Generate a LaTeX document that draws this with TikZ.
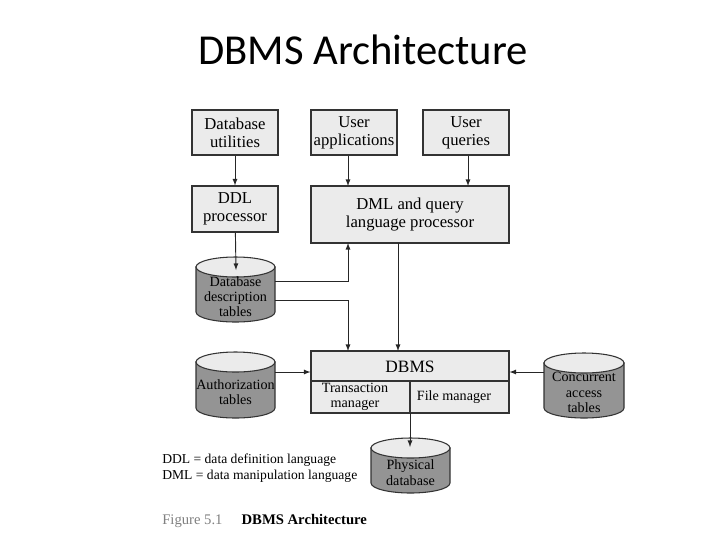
\documentclass[tikz,border=0pt]{standalone}
\usepackage{fontspec}
\setmainfont{Liberation Serif}
\newfontfamily\titlefont{Carlito}
\begin{document}
\begin{tikzpicture}[x=0.75pt,y=-0.75pt,
  box/.style={draw=black!80,fill=black!8,line width=0.8pt,inner sep=0pt,align=center,font=\fontsize{12.5}{13.5}\selectfont},
  ctext/.style={align=center,font=\fontsize{10.6}{11.5}\selectfont,inner sep=0pt},
  arr/.style={->,>=latex,line width=0.7pt,draw=black!85}]
\useasboundingbox (0,0) rectangle (720,540);
\newcommand{\mycyl}[6]{%
  \path[draw=black!80,line width=0.8pt,fill=black!42]
    (#2,#3+10) -- (#2,#5-10) arc[start angle=180,end angle=360,x radius={(#4-#2)*0.375pt},y radius=7.5pt] -- (#4,#3+10) -- cycle;
  \path[draw=black!80,line width=0.8pt,fill=black!8] ({(#2+#4)/2},#3+10) ellipse[x radius={(#4-#2)*0.375pt},y radius=7.5pt];
  \node[inner sep=0pt,minimum width={(#4-#2)*0.75pt},minimum height={(#5-#3)*0.75pt}] (#1) at ({(#2+#4)/2},{(#3+#5)/2}) {};
  \node[ctext] at ({(#2+#4)/2},{(#3+#5)/2+7}) {#6};}
\node[font=\titlefont\fontsize{32}{34}\selectfont] (title) at (363,50) {DBMS Architecture};
\node[box,minimum width=64.5pt,minimum height=33.75pt] (dbu) at (235,132.5) {Database\\utilities};
\node[box,minimum width=64.5pt,minimum height=33.75pt] (uapp) at (354,132.5) {User\\applications};
\node[box,minimum width=64.5pt,minimum height=33.75pt] (uq) at (466,132.5) {User\\queries};
\node[box,minimum width=64.5pt,minimum height=34.5pt] (ddl) at (235,209) {DDL\\processor};
\node[box,minimum width=148.5pt,minimum height=42.75pt] (dml) at (410,214.5) {DML and query\\language processor};
\mycyl{ddt}{196}{257}{275}{322}{Database\\description\\tables}
\mycyl{auth}{196}{352}{275}{418}{Authorization\\tables}
\mycyl{conc}{544}{353}{624}{418}{Concurrent\\access\\tables}
\mycyl{phys}{371}{438}{450}{493}{Physical\\database}
\node[box,minimum width=148.5pt,minimum height=46.5pt] (dbms) at (410,382) {};
\draw[draw=black!80,line width=0.8pt] (311,381) -- (509,381) (410,381) -- (410,413);
\node[font=\fontsize{13}{14}\selectfont] (dbmsl) at (410,367) {DBMS};
\node[ctext,font=\fontsize{10.6}{11.5}\selectfont] (tm) at (355,397) {Transaction\\manager};
\node[ctext,font=\fontsize{10.6}{11.5}\selectfont] (fm) at (454,397) {File manager};
\coordinate (fmb) at (410,413);
\coordinate (physt) at (410,447);
\draw[arr] (dbu) -- (ddl);
\draw[arr] (uapp.south -| 348,0) -- (348,186);
\draw[arr] (uq.south -| 468,0) -- (468,186);
\draw[arr] (ddl) -- (236,270);
\draw[arr] (ddt.east |- 0,281) -| (348,243);
\draw[arr] (ddt.east |- 0,300) -| (348,351);
\draw[arr] (398,243) -- (398,351);
\draw[arr] (auth.east |- 0,372) -- (dbms.west |- 0,372);
\draw[arr] (conc.west |- 0,372) -- (dbms.east |- 0,372);
\draw[arr] (fmb) -- (physt);
\node[anchor=west,align=left,inner sep=0pt,font=\fontsize{10.2}{12}\selectfont] (leg) at (162,468) {DDL = data definition language\\DML = data manipulation language};
\node[anchor=west,inner sep=0pt,font=\fontsize{11}{12}\selectfont] (cap) at (162,521) {\textcolor{black!50}{Figure 5.1}\hspace{1.3em}\textbf{DBMS Architecture}};
\end{tikzpicture}
\end{document}
